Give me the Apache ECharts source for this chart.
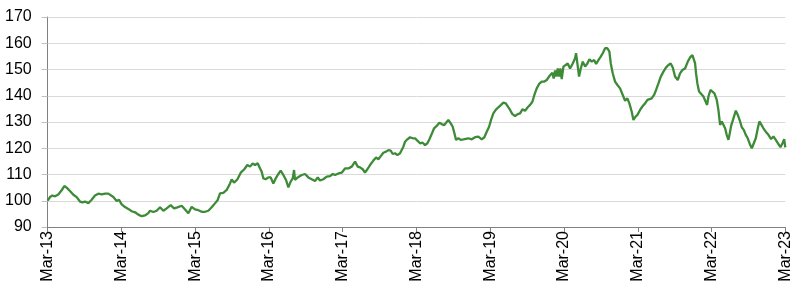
<!DOCTYPE html>
<html>
<head>
<meta charset="utf-8">
<script src="https://cdn.jsdelivr.net/npm/echarts@6/dist/echarts.min.js"></script>
<style>
html,body{margin:0;padding:0;background:#fff;}
#chart{width:800px;height:289px;}
</style>
</head>
<body>
<div id="chart"></div>
<script>
// Time in years since Mar-13
const years = [
0.000,0.031,0.063,0.099,0.144,0.189,0.226,0.257,0.302,0.348,0.393,0.438,0.470,0.506,0.551,0.596,0.641,0.687,0.732,0.777,0.822,0.849,0.890,0.935,0.967,
1.003,1.048,1.093,1.139,1.184,1.229,1.274,1.319,1.364,1.387,1.432,1.478,1.523,1.568,1.613,1.667,1.713,1.758,1.817,1.862,1.907,1.952,1.997,
2.042,2.088,2.133,2.178,2.223,2.268,2.305,2.336,2.381,2.427,2.472,2.494,2.526,2.571,2.617,2.662,2.707,2.743,2.779,2.811,2.847,2.879,2.901,2.924,2.955,2.992,
3.023,3.059,3.091,3.127,3.159,3.195,3.231,3.263,3.294,3.322,3.340,3.353,3.389,3.444,3.489,3.534,3.579,3.624,3.661,3.692,3.737,3.783,3.828,3.864,3.896,3.941,3.986,
4.031,4.076,4.122,4.167,4.203,4.235,4.271,4.302,4.334,4.370,4.415,4.452,4.483,4.515,4.551,4.587,4.619,4.650,4.678,4.709,4.741,4.777,4.804,4.822,4.845,4.876,4.912,4.949,4.980,
5.012,5.048,5.084,5.116,5.148,5.175,5.206,5.238,5.274,5.310,5.342,5.374,5.401,5.432,5.464,5.491,5.514,5.536,5.568,5.600,5.636,5.658,5.703,5.749,5.794,5.839,5.884,5.920,5.952,5.984,
6.011,6.042,6.074,6.110,6.146,6.178,6.210,6.237,6.269,6.300,6.336,6.373,6.404,6.436,6.472,6.508,6.540,6.571,6.598,6.630,6.662,6.698,6.734,6.766,6.797,6.824,6.842,6.860,6.879,6.897,6.915,6.933,6.951,6.969,6.992,
7.014,7.050,7.082,7.118,7.150,7.163,7.181,7.204,7.227,7.254,7.286,7.317,7.344,7.376,7.408,7.435,7.466,7.498,7.525,7.557,7.588,7.615,7.634,7.661,7.692,7.724,7.760,7.796,7.828,7.859,7.886,7.918,7.941,7.963,7.995,
8.031,8.067,8.099,8.131,8.158,8.189,8.221,8.248,8.280,8.312,8.348,8.384,8.415,8.447,8.474,8.505,8.542,8.573,8.605,8.641,8.678,8.709,8.741,8.759,8.777,8.790,8.808,8.831,8.858,8.890,8.912,8.940,8.958,8.985,
9.012,9.039,9.071,9.093,9.116,9.139,9.166,9.184,9.206,9.229,9.243,9.265,9.297,9.329,9.356,9.387,9.410,9.437,9.464,9.491,9.523,9.546,9.573,9.600,9.627,9.649,9.671,9.703,9.735,9.771,9.807,9.839,9.871,9.907,9.934,9.962,9.985,
10.000
];
// Index values
const values = [
100.1,101.4,102.0,101.7,102.4,104.0,105.6,105.0,103.7,102.3,101.4,99.7,99.4,99.7,99.1,100.4,102.0,102.7,102.4,102.7,102.7,103.3,101.4,99.9,100.4,
98.6,97.6,96.9,96.0,95.6,94.7,94.1,94.4,95.3,96.2,95.7,96.2,97.5,96.2,97.1,98.3,97.1,97.5,98.1,96.7,95.2,97.7,96.7,
96.4,95.8,95.8,96.2,97.5,99.0,100.3,102.8,103.0,104.1,106.6,108.1,106.9,108.1,110.7,111.9,113.6,113.0,114.2,113.6,114.3,112.3,111.1,108.5,108.2,108.9,
108.9,106.6,108.5,110.2,111.5,109.8,107.9,105.1,107.3,108.5,111.7,107.9,108.9,109.8,110.2,108.9,108.2,107.5,108.9,107.7,108.2,109.2,109.4,110.2,109.8,110.4,110.7,
112.3,112.3,113.0,114.9,113.0,112.7,112.0,110.7,112.0,113.6,115.3,116.5,115.8,117.0,118.3,118.7,119.3,119.1,117.8,118.1,117.4,118.1,117.8,120.6,122.5,123.4,124.2,123.8,123.8,
122.9,121.9,122.1,121.2,121.9,123.4,125.4,127.6,128.5,129.7,129.2,128.8,129.7,130.8,129.5,128.2,125.7,123.2,123.8,123.2,123.4,123.1,123.8,123.4,124.2,124.4,123.4,124.2,126.3,128.2,
130.8,133.3,134.6,135.6,136.5,137.4,137.1,136.5,134.6,133.0,132.3,133.0,133.3,134.8,134.3,135.6,136.5,137.7,140.3,142.8,144.5,145.4,145.4,146.0,147.3,147.9,148.8,146.6,149.6,147.3,150.4,147.3,150.4,146.3,151.1,
151.7,152.3,150.4,152.3,154.3,156.2,152.3,147.3,150.4,153.0,151.1,152.3,153.9,153.0,153.6,152.1,153.6,154.9,156.2,158.1,158.1,156.8,152.3,148.5,145.4,144.1,142.8,140.3,138.1,139.0,137.1,133.9,130.8,131.8,132.7,
134.6,136.1,137.1,138.4,137.7,139.0,140.3,142.2,144.7,147.3,149.2,150.8,151.7,152.3,150.8,147.3,146.0,148.5,149.8,150.4,153.0,154.6,155.5,155.9,152.3,148.5,144.7,141.6,140.9,139.7,140.3,136.5,139.7,142.2,
142.2,140.9,138.4,134.6,128.9,130.2,130.8,127.6,125.1,123.2,125.1,128.5,131.4,134.3,132.7,130.2,128.0,127.0,125.1,123.8,121.3,120.0,121.9,123.8,127.6,130.2,129.2,127.6,126.3,125.1,123.5,124.5,123.2,121.6,120.4,121.9,123.5,
120.3
];
const tickLabels = ['Mar-13','Mar-14','Mar-15','Mar-16','Mar-17','Mar-18','Mar-19','Mar-20','Mar-21','Mar-22','Mar-23'];

const data = years.map((t, i) => [t, values[i]]);
const chart = echarts.init(document.getElementById('chart'), null, {renderer: 'canvas'});
chart.setOption({
  animation: false,
  backgroundColor: '#ffffff',
  grid: {left: 47.7, right: 14.7, top: 17, bottom: 62, containLabel: false},
  xAxis: {
    type: 'value', min: 0, max: tickLabels.length - 1, interval: 1,
    axisLine: {show: true, lineStyle: {color: '#808080', width: 1}},
    axisTick: {show: true, length: 5, lineStyle: {color: '#808080'}},
    splitLine: {show: false},
    axisLabel: {
      rotate: 90, margin: 4, fontSize: 16, color: '#000',
      fontFamily: 'Liberation Sans, Arial, sans-serif',
      formatter: v => tickLabels[Math.round(v)] || ''
    }
  },
  yAxis: {
    type: 'value', min: 90, max: 170, interval: 10,
    axisLine: {show: true, lineStyle: {color: '#808080', width: 1}},
    axisTick: {show: true, length: 6, lineStyle: {color: '#bfbfbf'}},
    splitLine: {show: true, lineStyle: {color: '#d9d9d9', width: 1}},
    axisLabel: {margin: 16, fontSize: 16, color: '#000', fontFamily: 'Liberation Sans, Arial, sans-serif'}
  },
  series: [{
    type: 'line', data: data, showSymbol: false, symbol: 'none',
    lineStyle: {color: '#3d8b37', width: 2.3}
  }]
});
</script>
</body>
</html>
